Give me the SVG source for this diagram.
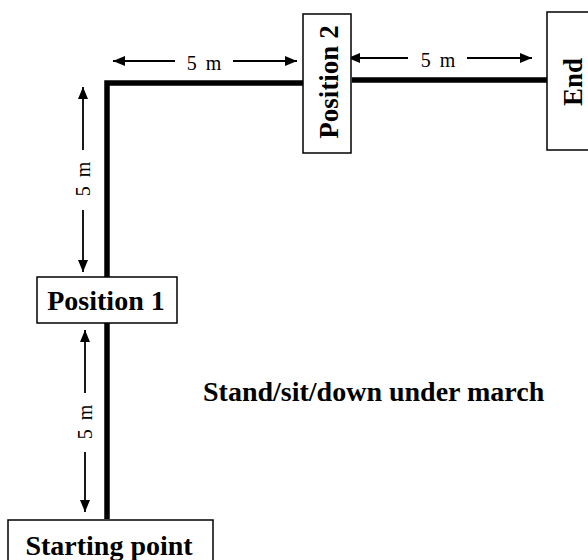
<svg xmlns="http://www.w3.org/2000/svg" width="588" height="560" viewBox="0 0 588 560">
<defs>
<marker id="ah" viewBox="0 0 12 10" refX="12" refY="5" markerWidth="12" markerHeight="10" markerUnits="userSpaceOnUse" orient="auto">
<path d="M0,0 L12,5 L0,10 Z" fill="#000"/>
</marker>
</defs>
<style>
.box{fill:#fff;stroke:#000;stroke-width:1.5}
.lbl{font-family:"Liberation Serif","Times New Roman",serif;font-weight:bold;font-size:28px;fill:#000}
.dim{font-family:"Liberation Serif","Times New Roman",serif;font-size:20px;word-spacing:4px;fill:#000}
.path{fill:none;stroke:#000;stroke-width:5.5}
.arr{fill:none;stroke:#000;stroke-width:1.8}
</style>
<rect width="588" height="560" fill="#fff"/>
<g id="connectors">
<polyline class="path" points="107,519 107,83 303,83"/>
<line class="path" x1="352" y1="80" x2="547" y2="80"/>
<line class="arr" x1="175" y1="61" x2="113" y2="61" marker-end="url(#ah)"/>
<line class="arr" x1="233" y1="61" x2="297" y2="61" marker-end="url(#ah)"/>
<text class="dim" x="204" y="70" text-anchor="middle">5 m</text>
<line class="arr" x1="408" y1="58" x2="348" y2="58" marker-end="url(#ah)"/>
<line class="arr" x1="467" y1="58" x2="532" y2="58" marker-end="url(#ah)"/>
<text class="dim" x="438" y="67" text-anchor="middle">5 m</text>
<line class="arr" x1="83" y1="150" x2="83" y2="87" marker-end="url(#ah)"/>
<line class="arr" x1="83" y1="210" x2="83" y2="272" marker-end="url(#ah)"/>
<text class="dim" transform="translate(90,179) rotate(-90)" text-anchor="middle">5 m</text>
<line class="arr" x1="85" y1="393" x2="85" y2="330" marker-end="url(#ah)"/>
<line class="arr" x1="85" y1="452" x2="85" y2="512" marker-end="url(#ah)"/>
<text class="dim" transform="translate(92,422) rotate(-90)" text-anchor="middle">5 m</text>
</g>
<g id="position2">
<rect class="box" x="303" y="14" width="48" height="139"/>
<text class="lbl" transform="translate(338,82) rotate(-90)" text-anchor="middle" style="font-size:27px">Position 2</text>
</g>
<g id="end">
<rect class="box" x="547" y="12" width="50" height="138"/>
<text class="lbl" transform="translate(582,82) rotate(-90)" text-anchor="middle" style="font-size:27px">End</text>
</g>
<g id="position1">
<rect class="box" x="37" y="277" width="140" height="46"/>
<text class="lbl" x="106" y="310" text-anchor="middle">Position 1</text>
</g>
<g id="start">
<rect class="box" x="8" y="520" width="205" height="50"/>
<text class="lbl" x="109" y="555" text-anchor="middle">Starting point</text>
</g>
<g id="caption">
<text class="lbl" x="203" y="401">Stand/sit/down under march</text>
</g>
</svg>
